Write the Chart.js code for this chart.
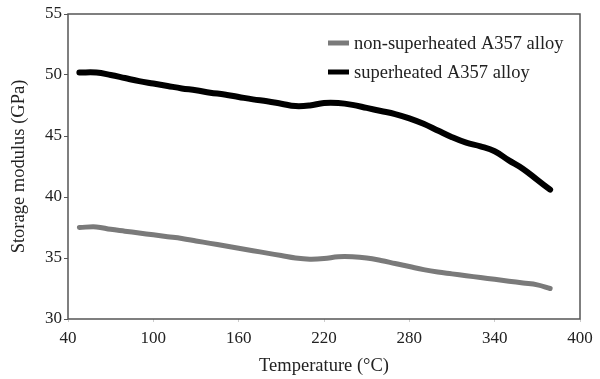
<!DOCTYPE html>
<html>
<head>
<meta charset="utf-8">
<script src="https://cdn.jsdelivr.net/npm/chart.js@4.4.0/dist/chart.umd.min.js"></script>
<style>
  html, body { margin: 0; padding: 0; background: #fff; }
  #wrap { width: 600px; height: 379px; }
</style>
</head>
<body>
<div id="wrap"><canvas id="dmaChart" width="600" height="379"></canvas></div>
<script>
// temperatures (°C)
const temperatures = [48, 60, 70, 80, 90, 100, 110, 120, 130, 140, 150, 160, 170, 180, 190, 200, 210,
  220, 230, 240, 250, 260, 270, 280, 290, 300, 310, 320, 330, 340, 350, 360, 370, 379];

// storage modulus (GPa)
const superheated = [50.2, 50.2, 50.0, 49.75, 49.5, 49.3, 49.1, 48.9, 48.75, 48.55, 48.4, 48.2, 48.0,
  47.85, 47.65, 47.45, 47.5, 47.7, 47.7, 47.55, 47.3, 47.05, 46.8, 46.45, 46.0, 45.45, 44.9, 44.45,
  44.15, 43.75, 43.0, 42.3, 41.4, 40.6];
const nonSuperheated = [37.5, 37.55, 37.35, 37.2, 37.05, 36.9, 36.75, 36.6, 36.4, 36.2, 36.0, 35.8,
  35.6, 35.4, 35.2, 35.0, 34.9, 34.95, 35.1, 35.1, 35.0, 34.8, 34.55, 34.3, 34.05, 33.85, 33.7, 33.55,
  33.4, 33.25, 33.1, 32.95, 32.8, 32.5];

const seriesNames = ["non-superheated A357 alloy", "superheated A357 alloy"];
const xTicks = [40, 100, 160, 220, 280, 340, 400];
const yTicks = [30, 35, 40, 45, 50, 55];

const serif = "'Liberation Serif', 'Times New Roman', serif";
const toPoints = (vals) => vals.map((v, i) => ({ x: temperatures[i], y: v }));

// full box around the plot area
const frame = {
  id: "frame",
  afterDatasetsDraw(chart) {
    const a = chart.chartArea;
    const ctx = chart.ctx;
    ctx.save();
    ctx.strokeStyle = "#555";
    ctx.lineWidth = 1.5;
    ctx.strokeRect(a.left, a.top, a.right - a.left, a.bottom - a.top);
    ctx.restore();
  },
};

// legend inside the top right corner
const innerLegend = {
  id: "innerLegend",
  afterDraw(chart) {
    const ctx = chart.ctx;
    const sets = chart.data.datasets;
    ctx.save();
    ctx.font = "18.5px " + serif;
    ctx.textBaseline = "middle";
    sets.forEach((ds, i) => {
      const y = 43 + i * 29;
      ctx.strokeStyle = ds.borderColor;
      ctx.lineWidth = 5;
      ctx.beginPath();
      ctx.moveTo(328, y);
      ctx.lineTo(349, y);
      ctx.stroke();
      ctx.fillStyle = "#222";
      ctx.fillText(ds.label, 354, y + 1);
    });
    ctx.restore();
  },
};

new Chart(document.getElementById("dmaChart").getContext("2d"), {
  type: "line",
  data: {
    datasets: [
      {
        label: seriesNames[0],
        data: toPoints(nonSuperheated),
        borderColor: "#7a7a7a",
        borderWidth: 5,
        pointRadius: 0,
        tension: 0.4,
        borderCapStyle: "round",
      },
      {
        label: seriesNames[1],
        data: toPoints(superheated),
        borderColor: "#000",
        borderWidth: 6,
        pointRadius: 0,
        tension: 0.4,
        borderCapStyle: "round",
      },
    ],
  },
  options: {
    responsive: false,
    animation: false,
    layout: { padding: { top: 14, right: 20, left: 0, bottom: 0 } },
    plugins: {
      legend: { display: false },
      tooltip: { enabled: false },
    },
    scales: {
      x: {
        type: "linear",
        min: 40,
        max: 400,
        afterBuildTicks: (axis) => { axis.ticks = xTicks.map((v) => ({ value: v })); },
        afterFit: (axis) => { axis.height = 60; },
        grid: { drawOnChartArea: false, tickLength: 3, color: "#ccc" },
        border: { display: false },
        ticks: { color: "#222", font: { family: serif, size: 17 }, padding: 6, maxRotation: 0 },
        title: {
          display: true,
          text: "Temperature (°C)",
          color: "#222",
          font: { family: serif, size: 18.5 },
          padding: { top: 0, bottom: 2 },
        },
      },
      y: {
        min: 30,
        max: 55,
        afterBuildTicks: (axis) => { axis.ticks = yTicks.map((v) => ({ value: v })); },
        afterFit: (axis) => { axis.width = 68; },
        grid: { drawOnChartArea: false, tickLength: 4, color: "#555" },
        border: { display: false },
        ticks: { color: "#222", font: { family: serif, size: 17 }, padding: 2 },
        title: {
          display: true,
          text: "Storage modulus (GPa)",
          color: "#222",
          font: { family: serif, size: 18.5 },
          padding: { top: 8, bottom: 0 },
        },
      },
    },
  },
  plugins: [frame, innerLegend],
});
</script>
</body>
</html>
